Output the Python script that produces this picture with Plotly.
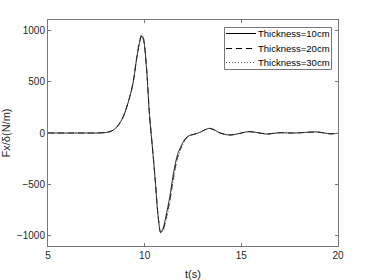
import plotly.graph_objects as go

t = [5, 6, 7, 7.5, 8, 8.3, 8.6, 8.9, 9.2, 9.4, 9.6, 9.75, 9.85, 9.95, 10.1, 10.25, 10.4, 10.55,
     10.7, 10.83, 10.95, 11.1, 11.3, 11.5, 11.7, 11.9, 12.1, 12.3, 12.6, 12.9, 13.1, 13.35, 13.6,
     13.9, 14.4, 14.9, 15.35, 15.8, 16.3, 16.7, 17.0, 17.5, 18.0, 18.5, 18.9, 19.3, 19.6, 20]

f10 = [0, 0, 0, 0, 5, 20, 65, 160, 330, 485, 740, 890, 945, 900, 620, 170, -140, -470,
       -820, -970, -930, -810, -620, -380, -210, -120, -55, -25, -10, 10, 30, 45, 30,
       0, -20, -5, 13, 5, -10, -3, 3, 0, 2, 8, 10, 0, -8, -3]
f20 = [0, 0, 0, 0, 5, 21, 67, 163, 335, 490, 748, 900, 955, 910, 630, 180, -135, -465,
       -815, -968, -945, -840, -660, -420, -240, -135, -62, -28, -10, 10, 30, 46, 30,
       0, -19, -5, 13, 5, -10, -3, 3, 0, 2, 8, 10, 0, -8, -3]
f30 = [0, 0, 0, 0, 5, 22, 68, 165, 340, 495, 755, 910, 968, 920, 640, 190, -130, -460,
       -810, -965, -955, -860, -680, -440, -255, -145, -68, -30, -12, 10, 30, 47, 31,
       0, -19, -5, 13, 5, -10, -3, 3, 0, 2, 8, 10, 0, -8, -3]

names = ["Thickness=10cm", "Thickness=20cm", "Thickness=30cm"]
series = [f10, f20, f30]
dashes = ["solid", "6px,4px", "1px,2px"]
colors = ["#000000", "#000000", "#555555"]

# plot area in pixels
L, R, T, B = 48, 338, 20, 246
def px(x):
    return (x - L) / (R - L)
def py(y):
    return (B - y) / (B - T)

fig = go.Figure()
for name, ys, d, c in zip(names, series, dashes, colors):
    fig.add_trace(go.Scatter(x=t, y=ys, mode="lines", name=name, showlegend=False,
                             line=dict(color=c, dash=d, width=0.8, shape="spline", smoothing=0.8)))

# manual MATLAB-like legend
shapes = [dict(type="rect", xref="paper", yref="paper", x0=px(224.5), x1=px(331.5),
               y0=py(69.5), y1=py(27.5), line=dict(color="#777777", width=1),
               fillcolor="white", layer="above")]
annotations = []
rows = [33.5, 48.5, 62.5]
for name, d, c, ry in zip(names, dashes, colors, rows):
    shapes.append(dict(type="line", xref="paper", yref="paper", x0=px(226), x1=px(256),
                       y0=py(ry), y1=py(ry), line=dict(color=c, dash=d, width=1), layer="above"))
    annotations.append(dict(text=name, xref="paper", yref="paper", x=px(256), y=py(ry),
                            xanchor="left", yanchor="middle", showarrow=False,
                            font=dict(size=9.5, color="#000000")))

axis_common = dict(showline=True, linecolor="#777777", linewidth=1, mirror="ticks",
                   ticks="inside", ticklen=3, tickcolor="#777777", showgrid=False,
                   zeroline=False, automargin=False, tickfont=dict(size=10, color="#262626"))

fig.update_layout(
    width=374, height=280,
    margin=dict(l=L, r=374 - R, t=T, b=280 - B),
    paper_bgcolor="white", plot_bgcolor="white",
    font=dict(family="Liberation Sans, Arial, sans-serif", size=10, color="#262626"),
    xaxis=dict(range=[5, 20], tickvals=[5, 10, 15, 20],
               title=dict(text="t(s)", font=dict(size=11), standoff=10), **axis_common),
    yaxis=dict(range=[-1100, 1100], tickvals=[-1000, -500, 0, 500, 1000],
               title=dict(text="Fx/δ(N/m)", font=dict(size=11), standoff=5), **axis_common),
    shapes=shapes, annotations=annotations,
    showlegend=False,
)

fig.write_html("out.html", config={"displayModeBar": False},
               post_script="document.body.style.margin='0';")
